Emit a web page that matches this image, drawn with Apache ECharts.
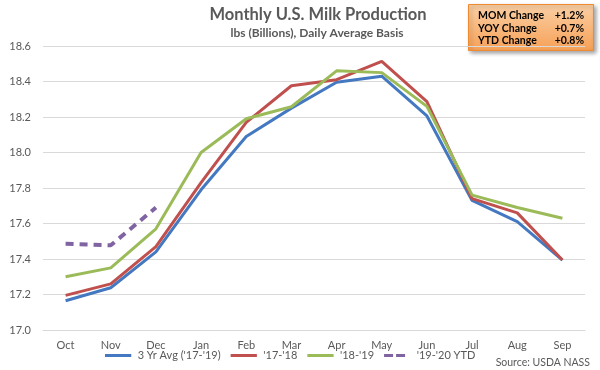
<!DOCTYPE html>
<html><head><meta charset="utf-8">
<script src="https://cdn.jsdelivr.net/npm/echarts@6/dist/echarts.min.js"></script>
<style>html,body{margin:0;padding:0;background:#fff}#c{width:600px;height:370px}</style>
</head><body><div id="c"></div>
<script>
const categories = ['Oct','Nov','Dec','Jan','Feb','Mar','Apr','May','Jun','Jul','Aug','Sep'];
const avg3yr = [17.165,17.238,17.44,17.79,18.09,18.25,18.396,18.43,18.206,17.73,17.61,17.394];
const y1718 = [17.195,17.26,17.47,17.83,18.17,18.376,18.41,18.514,18.286,17.74,17.66,17.394];
const y1819 = [17.30,17.35,17.57,18.0,18.19,18.258,18.46,18.45,18.26,17.76,17.69,17.63];
const ytd1920 = [17.486,17.477,17.69];
const seriesNames = ["3 Yr Avg ('17-'19)","'17-'18","'18-'19","'19-'20 YTD"];
const yTicks = [17.0,17.2,17.4,17.6,17.8,18.0,18.2,18.4,18.6];
const boxLabels = ['MOM Change','YOY Change','YTD Change'];
const boxValues = ['+1.2%','+0.7%','+0.8%'];

const F = 'Lato, "Open Sans", sans-serif';
const chart = echarts.init(document.getElementById('c'));
const colors = ['#4478C0','#C0504D','#9BBB59','#8064A2'];
const datas = [avg3yr,y1718,y1819,ytd1920];
const series = datas.map((d,i)=>({
  name: seriesNames[i], type:'line', data:d, symbol:'none', smooth:false,
  lineStyle:{color:colors[i], width: i===3?4:3, type: i===3?[8,6]:'solid'},
  itemStyle:{color:colors[i]}, z: i===3?5:(i===0?2:(i===1?3:4))
}));
const solidIcon = 'path://M0,0h35v4h-35z';
const dashIcon = 'path://M0,0h12v4h-12zM16,0h12v4h-12zM34.9,3.9h0.1v0.1h-0.1z';
const graphics = [
  {type:'rect', left:468, top:4, shape:{width:125,height:46},
   style:{fill:new echarts.graphic.LinearGradient(0,0,0,1,[{offset:0,color:'#FBD0A6'},{offset:1,color:'#F6A056'}]),
   stroke:'#F08A30', lineWidth:1, shadowBlur:4, shadowColor:'rgba(0,0,0,0.35)', shadowOffsetX:2, shadowOffsetY:2}},
  {type:'text', x:318, y:15, style:{text:'Monthly U.S. Milk Production', font:'bold 16.5px '+F, fill:'#595959', align:'center', verticalAlign:'middle'}},
  {type:'text', x:317, y:33, style:{text:'lbs (Billions), Daily Average Basis', font:'bold 12px '+F, fill:'#595959', align:'center', verticalAlign:'middle'}},
  {type:'text', x:590, y:363, style:{text:'Source: USDA NASS', font:'10.5px '+F, fill:'#595959', align:'right', verticalAlign:'middle'}}
];
boxLabels.forEach((t,i)=>{
  graphics.push({type:'text', x:478, y:16+i*12.5, style:{text:t, font:'bold 10.5px '+F, fill:'#000', verticalAlign:'middle'}});
  graphics.push({type:'text', x:584, y:16+i*12.5, style:{text:boxValues[i], font:'bold 10.5px '+F, fill:'#000', align:'right', verticalAlign:'middle'}});
});
chart.setOption({
  animation:false,
  textStyle:{fontFamily:F},
  grid:{left:43, right:15, top:46, bottom:40, containLabel:false},
  xAxis:{type:'category', data:categories, boundaryGap:true,
    axisLine:{lineStyle:{color:'#D9D9D9'}}, axisTick:{show:false},
    axisLabel:{color:'#595959', fontSize:11, margin:10, fontFamily:F}},
  yAxis:{type:'value', min:17.0, max:18.6, interval:0.2,
    axisLine:{show:false}, axisTick:{show:false},
    splitLine:{lineStyle:{color:'#D9D9D9', width:1}},
    axisLabel:{color:'#595959', fontSize:11, margin:12, fontFamily:F, formatter:v=>v.toFixed(1)}},
  legend:{
    data:seriesNames.map((n,i)=>({name:n, icon: i===3?dashIcon:solidIcon})),
    left:100, top:345, itemWidth:35, itemHeight:3, itemGap:10,
    textStyle:{color:'#595959', fontSize:11, fontFamily:F, padding:[0,0,0,-3]}},
  series:series,
  graphic:graphics
});
</script></body></html>
